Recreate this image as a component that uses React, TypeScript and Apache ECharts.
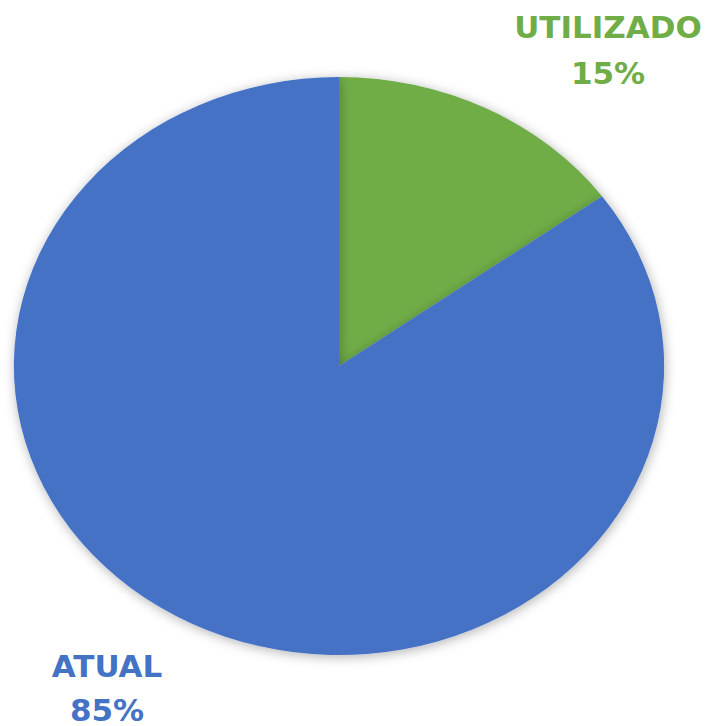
import React, { useEffect, useRef } from "react";
import * as echarts from "echarts";

const categories = ["UTILIZADO", "ATUAL"];
const values = [15, 85];
const colors = ["#70AD47", "#4472C4"];

export default function App() {
  const ref = useRef<HTMLDivElement>(null);
  useEffect(() => {
    if (!ref.current) return;
    const chart = echarts.init(ref.current, undefined, { renderer: "svg" });
    const total = values.reduce((a, b) => a + b, 0);
    const cx = 339;
    const cy = 366;
    const rx = 325;
    const ry = 289;
    const labelPos = [
      { x: 608, y: 27, gap: 46 },
      { x: 107, y: 666, gap: 44 },
    ];
    chart.setOption({
      animation: false,
      backgroundColor: "#ffffff",
      series: [
        {
          type: "custom",
          coordinateSystem: "none",
          data: values.map((v, i) => [v, i]),
          renderItem: (params: any, api: any) => {
            const idx = params.dataIndex;
            let before = 0;
            for (let i = 0; i < idx; i++) before += values[i];
            const v = api.value(0);
            const start = -Math.PI / 2 + (before / total) * Math.PI * 2;
            const end = start + (v / total) * Math.PI * 2;
            const pct = Math.round((v / total) * 100) + "%";
            const lp = labelPos[idx];
            return {
              type: "group",
              children: [
                {
                  type: "sector",
                  x: cx,
                  y: cy,
                  scaleX: rx / ry,
                  scaleY: 1,
                  shape: { cx: 0, cy: 0, r: ry, r0: 0, startAngle: start, endAngle: end, clockwise: true },
                  style: {
                    fill: colors[idx],
                    shadowBlur: 12,
                    shadowColor: "rgba(0,0,0,0.3)",
                    shadowOffsetX: 1,
                    shadowOffsetY: 2,
                  },
                },
                {
                  type: "text",
                  x: lp.x,
                  y: lp.y,
                  style: {
                    text: categories[idx],
                    fill: colors[idx],
                    font: "bold 31px 'DejaVu Sans'",
                    align: "center",
                    verticalAlign: "middle",
                  },
                },
                {
                  type: "text",
                  x: lp.x,
                  y: lp.y + lp.gap,
                  style: {
                    text: pct,
                    fill: colors[idx],
                    font: "bold 31px 'DejaVu Sans'",
                    align: "center",
                    verticalAlign: "middle",
                  },
                },
              ],
            };
          },
        },
      ],
    });
    return () => chart.dispose();
  }, []);
  return (
    <div
      ref={ref}
      style={{ position: "fixed", left: 0, top: 0, width: 707, height: 726 }}
    />
  );
}
